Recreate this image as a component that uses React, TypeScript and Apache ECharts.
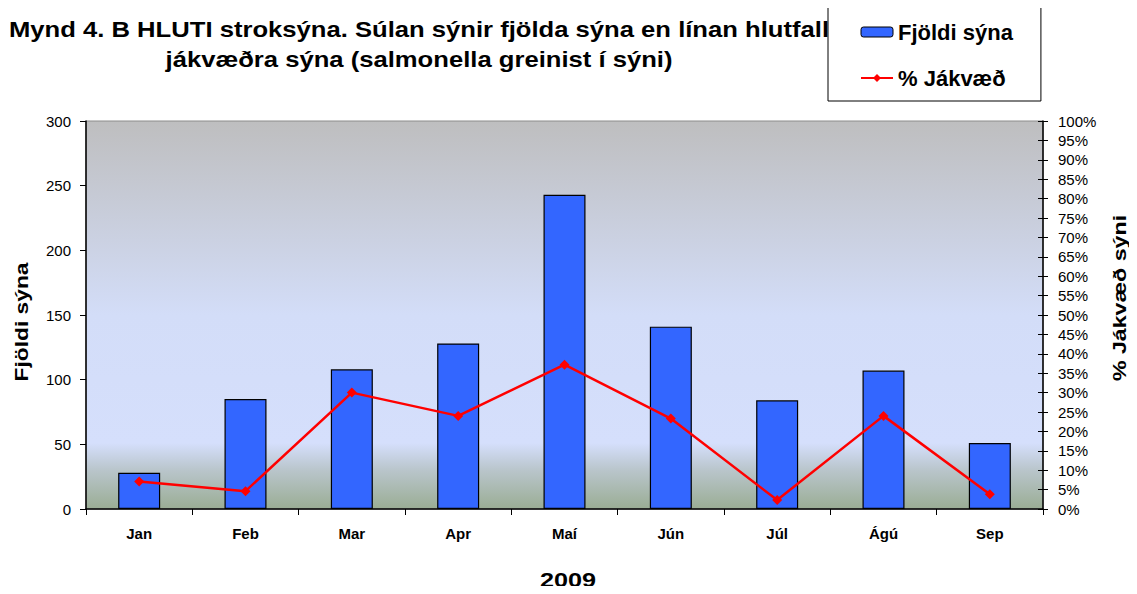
import React, { useEffect, useRef } from "react";
import * as echarts from "echarts";

const months = ["Jan", "Feb", "Mar", "Apr", "Maí", "Jún", "Júl", "Ágú", "Sep"];
const sampleCounts = [28, 85, 108, 128, 243, 141, 84, 107, 51];
const positivePct = [7.1, 4.6, 30.0, 24.0, 37.2, 23.3, 2.3, 24.0, 3.8];
const titleLines = [
  "Mynd 4. B HLUTI stroksýna. Súlan sýnir fjölda sýna en línan hlutfall",
  "jákvæðra sýna (salmonella greinist í sýni)",
];
const barName = "Fjöldi sýna";
const lineName = "% Jákvæð";
const leftAxisName = "Fjöldi sýna";
const rightAxisName = "% Jákvæð sýni";
const xAxisName = "2009";

const FONT = '"Liberation Sans", Arial, sans-serif';

export default function App() {
  const ref = useRef<HTMLDivElement>(null);
  useEffect(() => {
    if (!ref.current) return;
    const chart = echarts.init(ref.current, null, { renderer: "svg" });
    const bigText = (
      text: string,
      x: number,
      y: number,
      size: number,
      scaleX: number,
      rotation = 0
    ) => ({
      type: "text",
      x,
      y,
      rotation,
      scaleX,
      z: 1,
      style: {
        text,
        font: `bold ${size}px ${FONT}`,
        fill: "#000",
        textAlign: "center",
        textVerticalAlign: "middle",
      },
    });
    chart.setOption({
      animation: false,
      backgroundColor: "#fff",
      textStyle: { fontFamily: FONT },
      grid: {
        left: 86,
        right: 94,
        top: 121,
        bottom: 85,
        show: true,
        borderWidth: 1,
        borderColor: "#8c8c8c",
        backgroundColor: new echarts.graphic.LinearGradient(0, 0, 0, 1, [
          { offset: 0, color: "#BEBEBF" },
          { offset: 0.5, color: "#D3DDF8" },
          { offset: 0.83, color: "#D5DFFC" },
          { offset: 0.9, color: "#B9C5CB" },
          { offset: 1, color: "#9AAD94" },
        ]),
      },
      graphic: [
        bigText(titleLines[0], 419, 29, 22, 1.165),
        bigText(titleLines[1], 419, 59, 22, 1.165),
        bigText(xAxisName, 568, 580, 21, 1.2),
        bigText(leftAxisName, 21, 322, 19, 1.2, Math.PI / 2),
        bigText(rightAxisName, 1119, 298, 19, 1.22, Math.PI / 2),
      ],
      legend: {
        orient: "vertical",
        left: 828,
        top: 7,
        z: 10,
        backgroundColor: "#fff",
        borderColor: "#000",
        borderWidth: 1,
        padding: [14, 28, 12, 32],
        itemGap: 24,
        itemWidth: 32,
        itemHeight: 10,
        textStyle: {
          fontFamily: FONT,
          fontSize: 22,
          fontWeight: "bold",
          color: "#000",
          lineHeight: 22,
        },
        data: [
          {
            name: barName,
            itemStyle: { color: "#3366FF", borderColor: "#000", borderWidth: 1 },
          },
          { name: lineName },
        ],
      },
      xAxis: {
        type: "category",
        data: months,
        boundaryGap: true,
        axisLine: { lineStyle: { color: "#000", width: 1.5 } },
        axisTick: { show: true, length: 6, alignWithLabel: false, lineStyle: { color: "#000" } },
        axisLabel: {
          color: "#000",
          fontSize: 15,
          fontWeight: "bold",
          fontFamily: FONT,
          margin: 17,
        },
        splitLine: { show: false },
      },
      yAxis: [
        {
          type: "value",
          min: 0,
          max: 300,
          interval: 50,
          position: "left",
          axisLine: { show: true, lineStyle: { color: "#000", width: 1.5 } },
          axisTick: { show: true, length: 6, lineStyle: { color: "#000" } },
          axisLabel: { color: "#000", fontSize: 15, fontFamily: FONT, margin: 15 },
          splitLine: { show: false },
        },
        {
          type: "value",
          min: 0,
          max: 100,
          interval: 5,
          position: "right",
          axisLine: { show: true, lineStyle: { color: "#000", width: 1.5 } },
          axisTick: { show: true, length: 5, lineStyle: { color: "#000" } },
          axisLabel: {
            color: "#000",
            fontSize: 15,
            fontFamily: FONT,
            margin: 15,
            formatter: "{value}%",
          },
          splitLine: { show: false },
        },
        {
          type: "value",
          min: 0,
          max: 100,
          interval: 5,
          position: "right",
          axisLine: { show: false },
          axisTick: { show: true, inside: true, length: 5, lineStyle: { color: "#000" } },
          axisLabel: { show: false },
          splitLine: { show: false },
        },
      ],
      series: [
        {
          name: barName,
          type: "bar",
          data: sampleCounts,
          yAxisIndex: 0,
          barWidth: 42,
          itemStyle: { color: "#3366FF", borderColor: "#000", borderWidth: 1.2 },
          z: 2,
        },
        {
          name: lineName,
          type: "line",
          data: positivePct,
          yAxisIndex: 1,
          symbol: "diamond",
          symbolSize: 10,
          lineStyle: { color: "#FF0000", width: 2.5 },
          itemStyle: { color: "#FF0000" },
          z: 3,
        },
      ],
    });
    return () => chart.dispose();
  }, []);
  return <div ref={ref} style={{ width: 1137, height: 594, margin: -8 }} />;
}
